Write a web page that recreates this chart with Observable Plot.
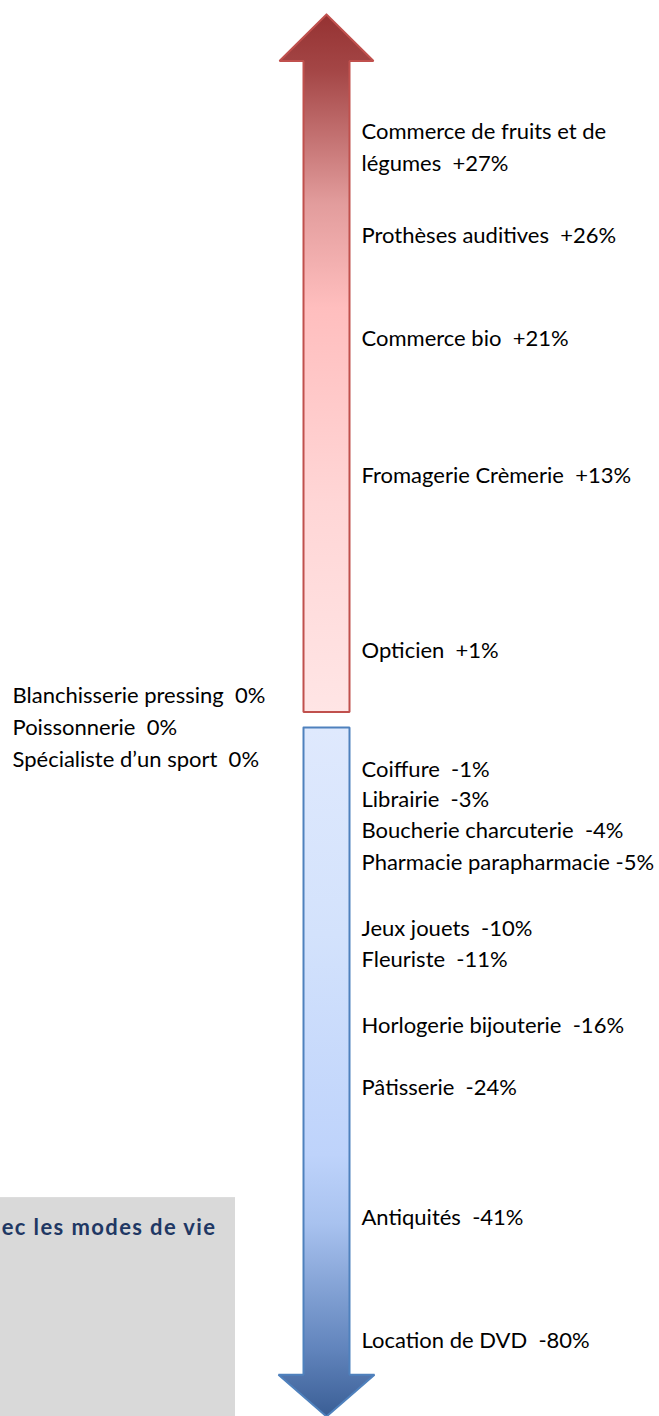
<!DOCTYPE html>
<html><head><meta charset="utf-8">
<script src="https://cdn.jsdelivr.net/npm/d3@7"></script>
<script src="https://cdn.jsdelivr.net/npm/@observablehq/plot@0.6"></script>
<style>
html,body{margin:0;padding:0;background:#fff;}
svg text{white-space:pre;}
</style></head>
<body><div id="chart"></div>
<script>
// Activities with growth (right of arrow)
const names = ["Commerce de fruits et de\nlégumes", "Prothèses auditives", "Commerce bio", "Fromagerie Crèmerie", "Opticien",
  "Coiffure", "Librairie", "Boucherie charcuterie", "Pharmacie parapharmacie", "Jeux jouets", "Fleuriste",
  "Horlogerie bijouterie", "Pâtisserie", "Antiquités", "Location de DVD"];
const changes = [27, 26, 21, 13, 1, -1, -3, -4, -5, -10, -11, -16, -24, -41, -80];
// Stable activities (left of arrow)
const stableNames = ["Blanchisserie pressing", "Poissonnerie", "Spécialiste d’un sport"];
const stableChanges = [0, 0, 0];
const boxTitle = "ec les modes de vie";

const fmt = v => (v > 0 ? "+" : "") + v + "%";
const rows = names.map((n, i) => ({label: n + (n.startsWith("Pharmacie") ? " " : "  ") + fmt(changes[i]), v: changes[i]}));
const stableText = stableNames.map((n, i) => n + "  " + fmt(stableChanges[i])).join("\n");

// arrow outlines in scale units (x: px from arrow axis, y: % value)
const upArrow = [[0,30],[47,28.95],[23,28.95],[23,0.2],[-23,0.2],[-23,28.95],[-47,28.95],[0,30]].map(([x,y])=>({x,y}));
const downArrow = [[-23,0],[23,0],[23,-89],[48,-89],[0,-100],[-48,-89],[-23,-89],[-23,0]].map(([x,y])=>({x,y}));

const chart = Plot.plot({
  width: 659, height: 1416,
  margin: 0,
  style: {fontFamily: "Lato, 'Open Sans', sans-serif", fontSize: "22px", color: "#000", background: "#fff"},
  x: {type: "linear", domain: [-326, 333], range: [0, 659], axis: null},
  y: {type: "linear",
      domain: [30, 27, 26, 21, 13, 1, 0, -1, -3, -4, -5, -10, -11, -16, -24, -41, -80, -100],
      range:  [14, 147, 235, 338, 475, 650, 727, 769, 799, 830, 862, 928, 959, 1025, 1087, 1217, 1340, 1416],
      axis: null},
  marks: [
    Plot.rect([0], {x1: -340, x2: -91, y1: -38.4, y2: -110, fill: "#d9d9d9"}),
    Plot.text([boxTitle], {x: -110, y: -45.4, dy: -3, text: d => d, textAnchor: "end", fontWeight: "bold", fill: "#1f3864", fontSize: 22}),
    Plot.line(upArrow, {x: "x", y: "y", fill: "url(#gradUp)", stroke: "#c0504d", strokeWidth: 2, strokeLinejoin: "miter", curve: "linear"}),
    Plot.line(downArrow, {x: "x", y: "y", fill: "url(#gradDown)", stroke: "#4f81bd", strokeWidth: 2, strokeLinejoin: "miter", curve: "linear"}),
    Plot.text(rows, {x: 35, y: "v", dy: -3, text: "label", textAnchor: "start", lineHeight: 1.45, fontSize: 22, fill: "#000"}),
    Plot.text([stableText], {x: -314, y: stableChanges[0], dy: -3, text: d => d, textAnchor: "start", lineHeight: 1.45, fontSize: 22, fill: "#000"})
  ]
});

const svg = d3.select(chart);
const defs = svg.insert("defs", ":first-child");
const g1 = defs.append("linearGradient").attr("id", "gradUp").attr("x1", 0).attr("y1", 0).attr("x2", 0).attr("y2", 1);
[[0,"#953232"],[0.08,"#a44646"],[0.27,"#e29c9c"],[0.42,"#ffbebe"],[0.7,"#ffd6d6"],[1,"#ffe5e5"]]
  .forEach(([o,c]) => g1.append("stop").attr("offset", o).attr("stop-color", c));
const g2 = defs.append("linearGradient").attr("id", "gradDown").attr("x1", 0).attr("y1", 0).attr("x2", 0).attr("y2", 1);
[[0,"#dfe9fd"],[0.3,"#d3e2fc"],[0.62,"#bed3fb"],[0.72,"#a8c2ef"],[0.9,"#6285bd"],[1,"#3a5e95"]]
  .forEach(([o,c]) => g2.append("stop").attr("offset", o).attr("stop-color", c));
svg.selectAll("text").filter(function(){ return this.textContent === boxTitle; }).style("letter-spacing", "1.4px");

document.getElementById("chart").appendChild(chart);
</script></body></html>
